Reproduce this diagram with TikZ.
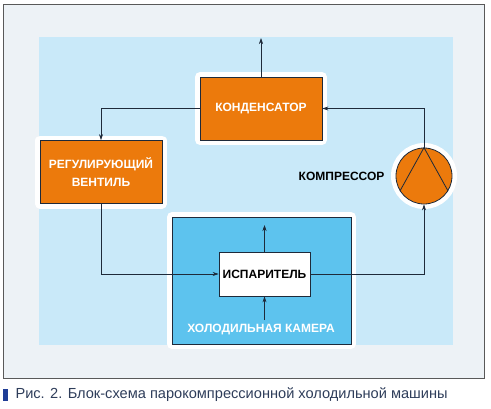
\documentclass[tikz,border=0pt]{standalone}
\usepackage{fontspec}
\setmainfont{Liberation Sans}
\usepackage{xcolor}
\usetikzlibrary{arrows.meta,positioning}
\definecolor{orangex}{HTML}{EC7A0C}
\definecolor{skyx}{HTML}{C9E9F9}
\definecolor{paperx}{HTML}{EDF2F6}
\definecolor{coldx}{HTML}{5DC3EE}
\definecolor{inkx}{HTML}{1E2A3A}
\definecolor{navyx}{HTML}{1F3D96}
\definecolor{captx}{HTML}{2E3D5A}
\tikzset{
  ar/.style={-{Stealth[length=6pt,width=4pt]},semithick,inkx},
  halo/.style={preaction={draw=white,line width=10pt,line join=round}},
  unit/.style={draw=inkx,thick,fill=orangex,halo,text=white,align=center,inner sep=0pt,
    minimum width=122pt,minimum height=63pt,font=\bfseries\fontsize{12}{18}\selectfont},
  lbl/.style={font=\bfseries\fontsize{12}{14}\selectfont,inner sep=0pt}
}
\begin{document}
\begin{tikzpicture}[x=1pt,y=-1pt]
\useasboundingbox (0,0) rectangle (491,408);
% frame and background
\draw[fill=paperx,draw=gray!70!black] (3,4) rectangle (484,378);
\fill[skyx] (39,37) rectangle (453,345);
% blocks
\node[draw=inkx,thick,fill=coldx,halo,minimum width=179pt,minimum height=127pt,inner sep=0pt] (chamber) at (261.5,280.5) {};
\node[unit] (cond) at (261,108.5) {КОНДЕНСАТОР};
\node[unit] (valve) at (101,172) {РЕГУЛИРУЮЩИЙ\\ВЕНТИЛЬ};
\node[circle,draw=inkx,thick,fill=orangex,halo,minimum size=56pt,inner sep=0pt] (comp) at (424,176) {};
\draw[inkx,thick] (comp.212) -- (comp.north) -- (comp.328);
\node[lbl,left=11pt of comp] (complabel) {КОМПРЕССОР};
\node[lbl,draw=inkx,thick,fill=white,minimum width=91pt,minimum height=44pt] (evap) at (264.5,274) {ИСПАРИТЕЛЬ};
\node[lbl,text=white] (chlabel) at (261,330) {ХОЛОДИЛЬНАЯ КАМЕРА};
% connectors
\coordinate (heatout) at (261,38);
\coordinate (evapup) at (264.5,225);
\coordinate (heatin) at (264.5,320);
\draw[ar] (cond.north) -- (heatout);
\draw[ar] (comp.north) |- (cond.east);
\draw[ar] (cond.west) -| (valve.north);
\draw[ar] (valve.south) |- (evap.west);
\draw[ar] (evap.east) -| (comp.south);
\draw[ar] (evap.north) -- (evapup);
\draw[ar] (heatin) -- (evap.south);
% caption
\fill[navyx] (3,389) rectangle (8,401);
\node[anchor=west,text=captx,font=\fontsize{14.6}{16}\selectfont] (caption) at (12,395) {Рис. 2. Блок-схема парокомпрессионной холодильной машины};
\end{tikzpicture}
\end{document}
